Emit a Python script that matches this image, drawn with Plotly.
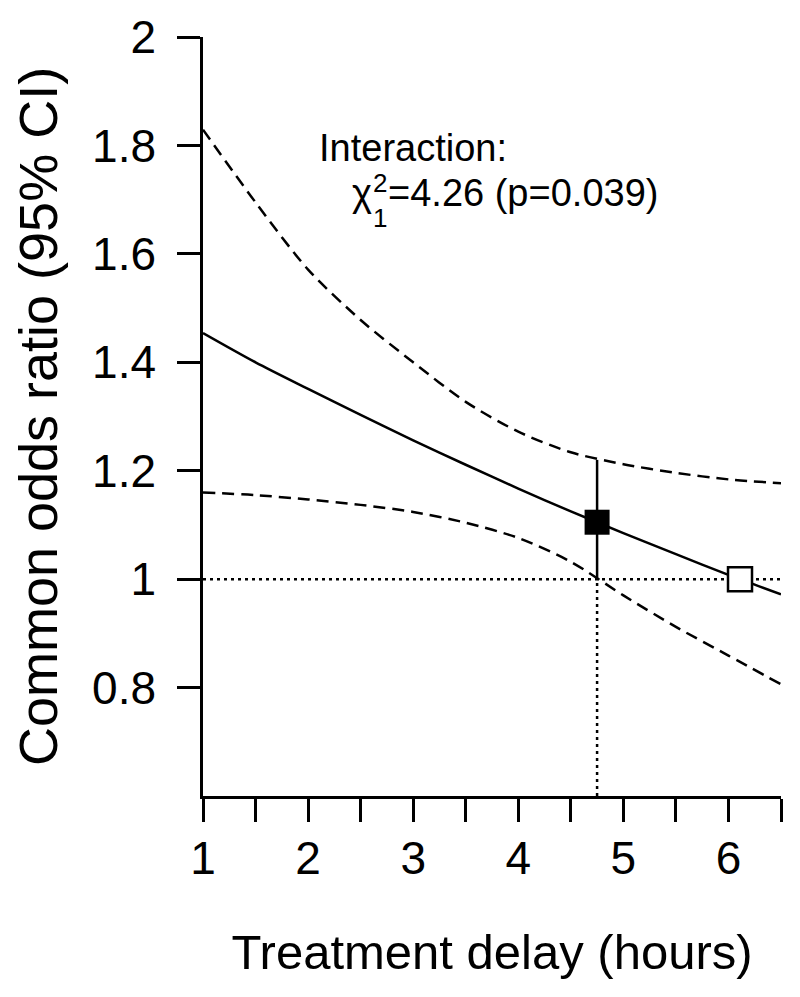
import plotly.graph_objects as go

# ---- data ----
delay_hours = [1.0, 1.5, 2.0, 2.5, 3.0, 3.5, 4.0, 4.5, 5.0, 5.5, 6.0, 6.5]
odds_ratio = [1.454, 1.400, 1.351, 1.303, 1.256, 1.211, 1.167, 1.125, 1.085, 1.046, 1.008, 0.972]
ci_upper = [1.829, 1.695, 1.571, 1.478, 1.400, 1.327, 1.272, 1.234, 1.212, 1.196, 1.184, 1.177]
ci_lower = [1.160, 1.155, 1.147, 1.137, 1.124, 1.104, 1.076, 1.032, 0.970, 0.912, 0.859, 0.806]

median_delay = [4.75]
median_or = [1.105]
median_ci_x = [4.75, 4.75]
median_ci_y = [1.0, 1.22]

null_delay = [6.11]
null_or = [1.0]

ref_h_x = [1.0, 6.5]
ref_h_y = [1.0, 1.0]
ref_v_x = [4.75, 4.75]
ref_v_y = [0.6, 1.0]

x_tickvals = [1, 2, 3, 4, 5, 6]
x_ticktext = ["1", "2", "3", "4", "5", "6"]
y_tickvals = [0.8, 1.0, 1.2, 1.4, 1.6, 1.8, 2.0]
y_ticktext = ["0.8", "1", "1.2", "1.4", "1.6", "1.8", "2"]

FONT = "Liberation Sans, Arial, sans-serif"
LW = 2.5

fig = go.Figure()

# reference dotted lines
fig.add_trace(go.Scatter(x=ref_h_x, y=ref_h_y, mode="lines",
                         line=dict(color="black", width=2.5, dash="3px,4px"),
                         hoverinfo="skip", showlegend=False))
fig.add_trace(go.Scatter(x=ref_v_x, y=ref_v_y, mode="lines",
                         line=dict(color="black", width=2.5, dash="3px,4px"),
                         hoverinfo="skip", showlegend=False))

# confidence bands
fig.add_trace(go.Scatter(x=delay_hours, y=ci_upper, mode="lines",
                         line=dict(color="black", width=LW, dash="12px,7px", shape="spline", smoothing=0.8),
                         showlegend=False))
fig.add_trace(go.Scatter(x=delay_hours, y=ci_lower, mode="lines",
                         line=dict(color="black", width=LW, dash="12px,7px", shape="spline", smoothing=0.8),
                         showlegend=False))

# main estimate
fig.add_trace(go.Scatter(x=delay_hours, y=odds_ratio, mode="lines",
                         line=dict(color="black", width=LW, shape="spline", smoothing=0.8),
                         showlegend=False))

# CI at median delay
fig.add_trace(go.Scatter(x=median_ci_x, y=median_ci_y, mode="lines",
                         line=dict(color="black", width=LW),
                         showlegend=False))

# markers
fig.add_trace(go.Scatter(x=median_delay, y=median_or, mode="markers",
                         marker=dict(symbol="square", size=25, color="black",
                                     line=dict(color="black", width=0)),
                         showlegend=False))
fig.add_trace(go.Scatter(x=null_delay, y=null_or, mode="markers",
                         marker=dict(symbol="square", size=24, color="white",
                                     line=dict(color="black", width=2.5)),
                         showlegend=False))

# annotation text (positions in data units)
ann_font = dict(family=FONT, size=38, color="black")
small_font = dict(family=FONT, size=26, color="black")
fig.add_annotation(x=2.095, y=1.795, xref="x", yref="y", xanchor="left", yanchor="middle",
                   text="Interaction:", showarrow=False, font=ann_font, borderpad=0)
fig.add_annotation(x=2.405, y=1.712, xref="x", yref="y", xanchor="left", yanchor="middle",
                   text="χ", showarrow=False, font=ann_font, borderpad=0)
fig.add_annotation(x=2.755, y=1.712, xref="x", yref="y", xanchor="left", yanchor="middle",
                   text="=4.26 (p=0.039)", showarrow=False, font=ann_font, borderpad=0)
fig.add_annotation(x=2.68, y=1.731, xref="x", yref="y", xanchor="center", yanchor="middle",
                   text="2", showarrow=False, font=small_font, borderpad=0)
fig.add_annotation(x=2.68, y=1.666, xref="x", yref="y", xanchor="center", yanchor="middle",
                   text="1", showarrow=False, font=small_font, borderpad=0)

fig.update_xaxes(range=[1, 6.5], showgrid=False, zeroline=False,
                 showline=True, linecolor="black", linewidth=LW,
                 ticks="outside", ticklen=23, tickwidth=LW, tickcolor="black",
                 tickvals=x_tickvals, ticktext=x_ticktext,
                 minor=dict(ticks="outside", ticklen=23, tickwidth=LW, tickcolor="black",
                            tick0=1, dtick=0.5, showgrid=False),
                 tickfont=dict(family=FONT, size=46, color="black"),
                 ticklabelstandoff=-3,
                 title=dict(text="Treatment delay (hours)", standoff=52,
                            font=dict(family=FONT, size=49, color="black")),
                 automargin=False)
fig.update_yaxes(range=[0.6, 2.0], showgrid=False, zeroline=False,
                 showline=True, linecolor="black", linewidth=LW,
                 ticks="outside", ticklen=23, tickwidth=LW, tickcolor="black",
                 tickvals=y_tickvals, ticktext=y_ticktext,
                 tickfont=dict(family=FONT, size=46, color="black"),
                 ticklabelstandoff=12,
                 title=dict(text="Common odds ratio (95% CI)", standoff=21,
                            font=dict(family=FONT, size=54, color="black")),
                 automargin=False)

# the page adds an 8px body margin; margins compensate so the plot area
# lands where the reference has it
fig.update_layout(width=800, height=997,
                  margin=dict(l=195, r=27, t=29, b=209, pad=0),
                  paper_bgcolor="white", plot_bgcolor="white",
                  showlegend=False)

fig.write_html("out.html")
